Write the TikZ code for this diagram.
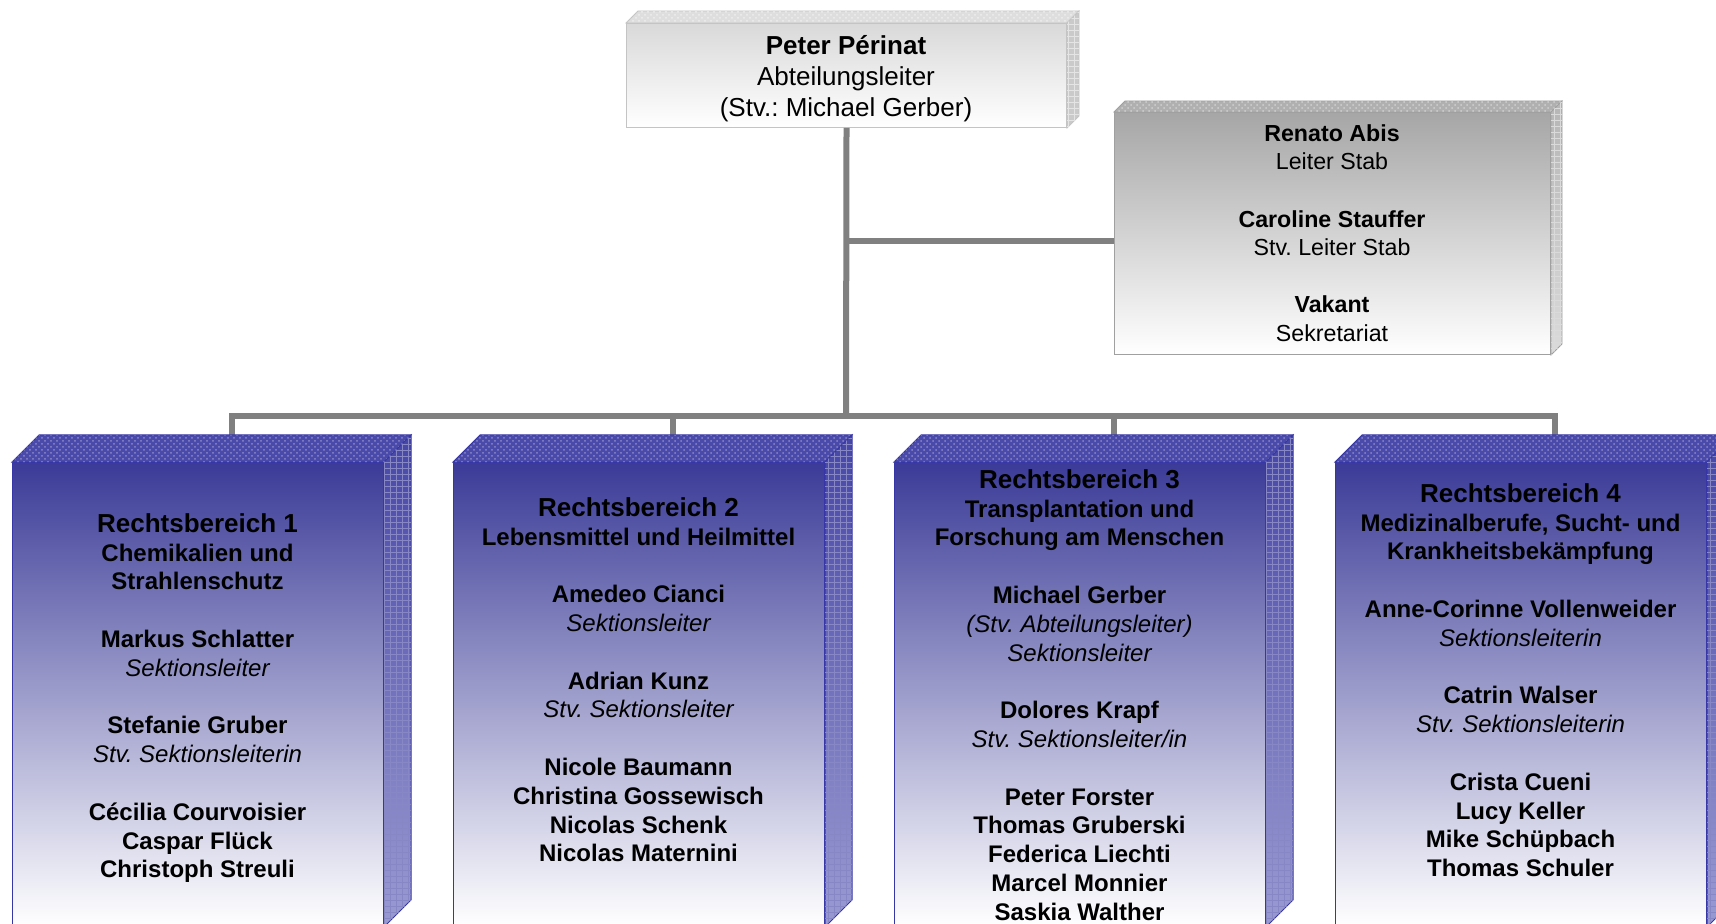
\documentclass[tikz,border=0pt]{standalone}
\usepackage{fontspec}
\setmainfont{Liberation Sans}
\usetikzlibrary{patterns}
\definecolor{conngray}{HTML}{808080}
\definecolor{bluefronttop}{HTML}{3B3B98}
\definecolor{bluetopface}{HTML}{4A4AAA}
\definecolor{bluesidetop}{HTML}{4646A6}
\definecolor{bluesidebot}{HTML}{9A9AD2}
\definecolor{blueedge}{HTML}{3636A6}
\definecolor{graytopA}{HTML}{D9D9D9}
\definecolor{graytopface}{HTML}{DEDEDE}
\definecolor{graysideA}{HTML}{CACACA}
\definecolor{grayedgeA}{HTML}{C4C4C4}
\definecolor{staffA}{HTML}{A6A6A6}
\definecolor{stafftopface}{HTML}{B0B0B0}
\definecolor{staffside}{HTML}{B6B6B6}
\definecolor{staffedge}{HTML}{A0A0A0}
\newcommand\rolex[1]{{\mdseries\itshape #1}}
\newcommand\cubefaces[4]{%
  \path[#3] (#1.north west) -- ([shift={(#2,#2)}]#1.north west) -- ([shift={(#2,#2)}]#1.north east) -- (#1.north east) -- cycle;
  \path[#4] (#1.north east) -- ([shift={(#2,#2)}]#1.north east) -- ([shift={(#2,#2)}]#1.south east) -- (#1.south east) -- cycle;}
\frenchspacing
\begin{document}
\begin{tikzpicture}[x=0.5pt,y=-0.5pt,
  conn/.style={draw=conngray, line width=3pt},
  front/.style={anchor=north west, inner sep=0pt, line width=0.5pt},
  bluefront/.style={front, draw=blueedge, top color=bluefronttop, bottom color=white, minimum width=185.5pt, minimum height=232pt},
  bluetop/.style={fill=bluetopface, draw=blueedge, line width=0.5pt, postaction={pattern=crosshatch dots, pattern color=white!35!bluetopface}},
  blueside/.style={top color=bluesidetop, bottom color=bluesidebot, draw=blueedge, line width=0.5pt, postaction={pattern=grid, pattern color=white!35!bluesidetop}},
  topfront/.style={front, draw=grayedgeA, top color=graytopA, bottom color=white, minimum width=220pt, minimum height=52pt},
  graytop/.style={fill=graytopface, draw=grayedgeA, line width=0.4pt, postaction={pattern=crosshatch dots, pattern color=white!50!graytopface}},
  grayside/.style={fill=graysideA, draw=grayedgeA, line width=0.4pt, postaction={pattern=grid, pattern color=white!50!graysideA}},
  stafffront/.style={front, draw=staffedge, top color=staffA, bottom color=white, minimum width=218pt, minimum height=121pt},
  stafftop/.style={fill=stafftopface, draw=staffedge, line width=0.4pt, postaction={pattern=crosshatch dots, pattern color=white!40!stafftopface}},
  staffsidest/.style={top color=staffside, bottom color=white!50!staffside, draw=staffedge, line width=0.4pt, postaction={pattern=grid, pattern color=white!50!staffside}},
  boxtext/.style={anchor=north, align=center, inner sep=0pt, font=\fontsize{12pt}{14.4pt}\selectfont\bfseries}]
\useasboundingbox (0,0) rectangle (1716,924);
\clip (0,0) rectangle (1716,924);

% front faces (nodes)
\node[topfront] (top) at (626,23) {};
\node[stafffront] (staff) at (1114,112) {};
\node[bluefront] (b1) at (12,462) {};
\node[bluefront] (b2) at (453,462) {};
\node[bluefront] (b3) at (894,462) {};
\node[bluefront] (b4) at (1335,462) {};

% connector points
\coordinate (sj) at (846,241);
\coordinate (busc) at (846,416);
\coordinate (d1) at (232,435);
\coordinate (d2) at (673,435);
\coordinate (d3) at (1114,435);
\coordinate (d4) at (1555,435);

% connectors
\draw[conn] (top.south) -- (busc);
\draw[conn] (sj) -- (sj -| staff.west);
\draw[conn] (d1) |- (busc);
\draw[conn] (d2) |- (busc);
\draw[conn] (d3) |- (busc);
\draw[conn] (d4) |- (busc);

% 3D faces
\cubefaces{top}{6pt}{graytop}{grayside}
\cubefaces{staff}{5.5pt}{stafftop}{staffsidest}
\cubefaces{b1}{13.5pt}{bluetop}{blueside}
\cubefaces{b2}{13.5pt}{bluetop}{blueside}
\cubefaces{b3}{13.5pt}{bluetop}{blueside}
\cubefaces{b4}{13.5pt}{bluetop}{blueside}

% texts
\node[anchor=north, align=center, inner sep=0pt, font=\fontsize{13pt}{15.6pt}\selectfont] (toptext) at (846,35)
  {\textbf{Peter Périnat}\\Abteilungsleiter\\(Stv.: Michael Gerber)};
\node[anchor=north, align=center, inner sep=0pt, font=\fontsize{11.6pt}{14.3pt}\selectfont] (stafftext) at (1332,124)
  {\textbf{Renato Abis}\\Leiter Stab\\[14.3pt]\textbf{Caroline Stauffer}\\Stv. Leiter Stab\\[14.3pt]\textbf{Vakant}\\Sekretariat};
\node[boxtext] (t1) at (197.5,513)
  {{\fontsize{13pt}{14.4pt}\selectfont Rechtsbereich 1}\\Chemikalien und\\Strahlenschutz\\[14.4pt]Markus Schlatter\\\rolex{Sektionsleiter}\\[14.4pt]Stefanie Gruber\\\rolex{Stv. Sektionsleiterin}\\[14.4pt]Cécilia Courvoisier\\Caspar Flück\\Christoph Streuli};
\node[boxtext] (t2) at (638.5,497)
  {{\fontsize{13pt}{14.4pt}\selectfont Rechtsbereich 2}\\Lebensmittel und Heilmittel\\[14.4pt]Amedeo Cianci\\\rolex{Sektionsleiter}\\[14.4pt]Adrian Kunz\\\rolex{Stv. Sektionsleiter}\\[14.4pt]Nicole Baumann\\Christina Gossewisch\\Nicolas Schenk\\Nicolas Maternini};
\node[boxtext] (t3) at (1079.5,469)
  {{\fontsize{13pt}{14.4pt}\selectfont Rechtsbereich 3}\\Transplantation und\\Forschung am Menschen\\[14.4pt]Michael Gerber\\\rolex{(Stv. Abteilungsleiter)}\\\rolex{Sektionsleiter}\\[14.4pt]Dolores Krapf\\\rolex{Stv. Sektionsleiter/in}\\[14.4pt]Peter Forster\\Thomas Gruberski\\Federica Liechti\\Marcel Monnier\\Saskia Walther};
\node[boxtext] (t4) at (1520.5,483)
  {{\fontsize{13pt}{14.4pt}\selectfont Rechtsbereich 4}\\Medizinalberufe, Sucht- und\\Krankheitsbekämpfung\\[14.4pt]Anne-Corinne Vollenweider\\\rolex{Sektionsleiterin}\\[14.4pt]Catrin Walser\\\rolex{Stv. Sektionsleiterin}\\[14.4pt]Crista Cueni\\Lucy Keller\\Mike Schüpbach\\Thomas Schuler};
\end{tikzpicture}
\end{document}
